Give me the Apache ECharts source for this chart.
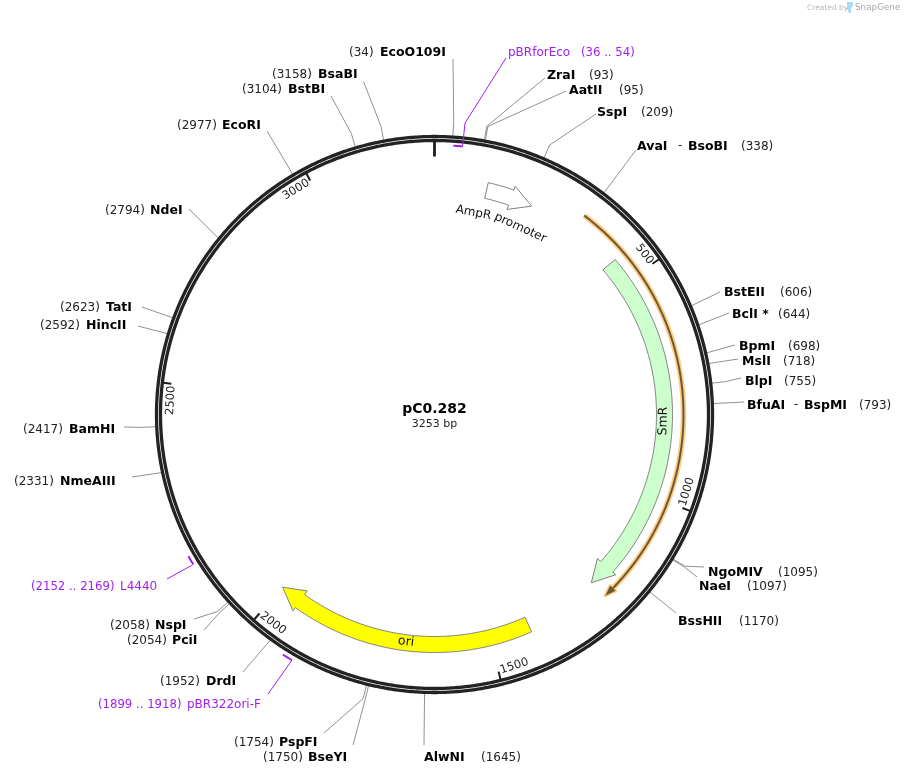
<!DOCTYPE html>
<html>
<head>
<meta charset="utf-8">
<style>html,body{margin:0;padding:0;background:#fff}#c{width:904px;height:775px}</style>
<script src="https://cdn.jsdelivr.net/npm/echarts@6/dist/echarts.min.js"></script>
</head>
<body>
<div id="c"></div>
<script>
const plasmidName = 'pC0.282';
const plasmidLength = 3253;
const tickValues = [0, 500, 1000, 1500, 2000, 2500, 3000];

const siteNames = ['EcoO109I','ZraI','AatII','SspI','AvaI - BsoBI','BstEII','BclI *','BpmI','MslI','BlpI','BfuAI - BspMI','NgoMIV','NaeI','BssHII','AlwNI','BseYI','PspFI','DrdI','PciI','NspI','NmeAIII','BamHI','HincII','TatI','NdeI','EcoRI','BstBI','BsaBI'];
const sitePositions = [34,93,95,209,338,606,644,698,718,755,793,1095,1097,1170,1645,1750,1754,1952,2054,2058,2331,2417,2592,2623,2794,2977,3104,3158];

const primerNames = ['pBRforEco','pBR322ori-F','L4440'];
const primerStarts = [36,1899,2152];
const primerEnds = [54,1918,2169];
const primerLeaderFrom = [54,1899,2152];

const featureNames = ['AmpR promoter','SmR','ori'];
const featureStarts = [118,446,1409];
const featureEnds = [226,1238,2000];
const featureFills = ['#ffffff','#ccffcc','#ffff00'];

const highlightStart = 334;
const highlightEnd = 1235;

// Label layout (page pixels), kept apart from the data above:
// [leader end x, leader end y, text y, position text x, name piece x...]
const siteLabelLayout = [
 [453,59,51,349,380],[545,78,74,589,547],[566,91,89,619,569],[596,114,111,641,597],
 [636,150,145,741,637,678,688],[720,292,291,780,724],[729,313,313,778,732],[735,345,345,788,739],
 [738,359,360,783,742],[741,378,380,784,745],[744,402,404,859,747,794,804],[704,567,571,778,708],
 [697,577,585,747,699],[676,613,620,739,678],[424,745,756,481,424],[353,745,756,263,308],
 [324,733,741,234,279],[243,672,680,160,206],[204,630,639,127,172],[194,619,624,110,155],
 [132,477,480,14,60],[124,427,428,23,69],[138,326,324,40,86],[142,307,306,60,106],
 [189,209,209,105,150],[267,131,124,177,222],[331,96,88,242,288],[363.5,81.5,73,272,318]
];
// Leaders of crowded sites bend at a knee; the others run straight to the label.
const bentLeaders = ['EcoO109I','ZraI','AatII','SspI','BlpI','NgoMIV','NaeI','BseYI','PspFI','PciI','NspI','BamHI','BstBI','BsaBI'];
const primerLabelLayout = [
 [506,58,52,581,508],[268,694,704,98,187],[167,579,586,31,120]
];
const primerRadii = [269.5,284,284];
const primerKneeRadii = [293,286,286];

const FONT = '"DejaVu Sans"';
const PURPLE = '#a020f0';
const R_RING = 276;
const R_KNEE = 293;
const TEXT_DY = 0.3;

function txt(text, x, y, font, fill, align, rot, va) {
  return {type:'text', x:x, y:y, rotation:rot||0, silent:true, style:{
    text:text, font:font, fill:fill,
    textAlign:align||'left', textVerticalAlign:va||'middle',
    align:align||'left', verticalAlign:va||'middle'
  }};
}
function arcPoints(api, r, a, b) {
  const pts = [], n = Math.max(2, Math.ceil(Math.abs(b-a)/4));
  for (let i=0;i<=n;i++) pts.push(api.coord([r, a+(b-a)*i/n]));
  return pts;
}
function arrowPoints(api, start, end, rIn, rOut, rWingIn, rWingOut, headLen) {
  const base = end - headLen, mid = (rIn+rOut)/2;
  const outer = arcPoints(api, rOut, start, base);
  const inner = arcPoints(api, rIn, base, start);
  return outer.concat([api.coord([rWingOut,base]), api.coord([mid,end]), api.coord([rWingIn,base])], inner);
}
const angleDeg = p => p/plasmidLength*360;
function deg2rad(d){return d*Math.PI/180;}

function renderSite(params, api) {
  const i = api.value(2), pos = sitePositions[i], lay = siteLabelLayout[i];
  const pts = bentLeaders.indexOf(siteNames[i])>=0
    ? [api.coord([278,pos]), api.coord([R_KNEE,pos]), [lay[0],lay[1]]]
    : [api.coord([278,pos]), [lay[0],lay[1]]];
  const children = [{type:'polyline', silent:true, shape:{points:pts},
    style:{stroke:'#858585', lineWidth:0.9, fill:null}}];
  const parts = siteNames[i].split(' - ');
  const y = lay[2] + 1 + TEXT_DY;
  children.push(txt('('+pos+')', lay[3], y + 1, '12px '+FONT, '#222222'));
  children.push(txt(parts[0], lay[4], y, 'bold 12.5px '+FONT, '#000000'));
  if (parts.length>1) {
    children.push(txt('-', lay[5], y, '12px '+FONT, '#222222'));
    children.push(txt(parts[1], lay[6], y, 'bold 12.5px '+FONT, '#000000'));
  }
  return {type:'group', children:children};
}
function renderRing(params, api) {
  const circle = r => {
    const pts = arcPoints(api, r, 0, plasmidLength); pts.pop();
    return {type:'polygon', silent:true, shape:{points:pts}, style:{fill:'none', stroke:'#232323', lineWidth:3.3}};
  };
  return {type:'group', children:[circle(278), circle(274)]};
}
function renderTick(params, api) {
  const v = api.value(1), zero = v===0;
  const a0 = api.coord([273,v]), b0 = api.coord([zero?258:265,v]);
  const children = [{type:'line', silent:true,
    shape:{x1:a0[0],y1:a0[1],x2:b0[0],y2:b0[1]},
    style:{stroke:'#1e1e1e', lineWidth:zero?2.8:2}}];
  if (!zero) {
    const deg = angleDeg(v);
    const off = String(v).length*0.9;
    const c = api.coord([264, v - off/360*plasmidLength]);
    const a = deg-off;
    const rotDeg = (a>90 && a<270) ? a-180 : (a>=270 ? a-360 : a);
    children.push(txt(String(v), c[0], c[1], '11.5px '+FONT, '#222222', 'center', -deg2rad(rotDeg)));
  }
  return {type:'group', children:children};
}
function renderPrimer(params, api) {
  const i = api.value(2), lay = primerLabelLayout[i], r = primerRadii[i];
  const from = primerLeaderFrom[i];
  const y = lay[2] + 1 + TEXT_DY;
  const children = [
    {type:'polyline', silent:true, shape:{points:arcPoints(api, r, primerStarts[i], primerEnds[i])},
     style:{stroke:PURPLE, lineWidth:2, fill:null}},
    {type:'polyline', silent:true, shape:{points:[api.coord([r,from]), api.coord([primerKneeRadii[i],from]), [lay[0],lay[1]]]},
     style:{stroke:PURPLE, lineWidth:1, fill:null}},
    txt(primerNames[i], lay[4], y, '12px '+FONT, PURPLE),
    txt('('+primerStarts[i]+' .. '+primerEnds[i]+')', lay[3], y, '11.7px '+FONT, PURPLE)
  ];
  return {type:'group', children:children};
}
function renderHighlight(params, api) {
  const s = api.value(1), e = api.value(2), r = 249, head = 22;
  const base = e-head;
  const line = arcPoints(api, r, s, base);
  const headPts = [api.coord([r+3.8,base]), api.coord([r,e]), api.coord([r-3.8,base])];
  return {type:'group', children:[
    {type:'polyline', silent:true, shape:{points:line}, style:{stroke:'#ffcc80', lineWidth:5.5, fill:null}},
    {type:'polygon', silent:true, shape:{points:headPts}, style:{fill:'#ffcc80', stroke:'#ffcc80', lineWidth:3, lineJoin:'round'}},
    {type:'polyline', silent:true, shape:{points:line}, style:{stroke:'#6a5836', lineWidth:2, fill:null}},
    {type:'polygon', silent:true, shape:{points:headPts}, style:{fill:'#6a5836', stroke:'none'}}
  ]};
}
function renderFeature(params, api) {
  const i = api.value(2);
  const children = [{type:'polygon', silent:true,
    shape:{points:arrowPoints(api, featureStarts[i], featureEnds[i], 222, 238, 217.5, 242, 50)},
    style:{fill:featureFills[i], stroke:'#808080', lineWidth:1}}];
  if (featureNames[i]==='AmpR promoter') {
    const w = featureNames[i].split(' ');
    const wordPos = [98.5, 223];
    w.forEach((t,k)=>{const c=api.coord([205.5,wordPos[k]]);
      children.push(txt(t,c[0],c[1],'12px '+FONT,'#111111','center',-deg2rad(angleDeg(wordPos[k]))));});
  } else {
    const lp = featureNames[i]==='ori' ? 1691 : 828;
    const c = api.coord([229,lp]), a = angleDeg(lp);
    children.push(txt(featureNames[i],c[0],c[1],'12.5px '+FONT,'#111111','center',-deg2rad(a-180)));
  }
  return {type:'group', children:children};
}

const chart = echarts.init(document.getElementById('c'), null, {renderer:'canvas'});
const base = {type:'custom', coordinateSystem:'polar', clip:false, silent:true, animation:false, encode:{radius:0, angle:1}};
chart.setOption({
  animation:false,
  backgroundColor:'#ffffff',
  title:{
    text:plasmidName, subtext:plasmidLength+' bp', left:434.5, top:402, textAlign:'center', itemGap:3, padding:0,
    textStyle:{fontFamily:FONT, fontSize:14, fontWeight:'bold', color:'#000000'},
    subtextStyle:{fontFamily:FONT, fontSize:11, color:'#222222'}
  },
  tooltip:{show:false},
  polar:{center:[434.5,414.5], radius:[0,320]},
  radiusAxis:{show:false, min:0, max:320},
  angleAxis:{show:false, min:0, max:plasmidLength, startAngle:90, clockwise:true},
  graphic:[
    {type:'text', x:807, y:8, silent:true, style:{text:'Created by', font:'7.5px '+FONT, fill:'#b9b9b9', textVerticalAlign:'middle', verticalAlign:'middle'}},
    {type:'polygon', silent:true, shape:{points:[[847,2],[853,2],[853,6],[851,8],[851,13],[849,13],[847,9]]}, style:{fill:'#a9dcf5'}},
    {type:'text', x:855, y:8, silent:true, style:{text:'SnapGene', font:'8.8px '+FONT, fill:'#a9a9a9', textVerticalAlign:'middle', verticalAlign:'middle'}}
  ],
  series:[
    Object.assign({}, base, {renderItem:renderSite, data:sitePositions.map((p,i)=>[R_RING,p,i])}),
    Object.assign({}, base, {renderItem:renderRing, data:[[R_RING,0,0]]}),
    Object.assign({}, base, {renderItem:renderTick, data:tickValues.map(v=>[R_RING,v])}),
    Object.assign({}, base, {renderItem:renderPrimer, data:primerNames.map((n,i)=>[R_RING,primerStarts[i],i])}),
    Object.assign({}, base, {renderItem:renderHighlight, data:[[249,highlightStart,highlightEnd]]}),
    Object.assign({}, base, {renderItem:renderFeature, data:featureNames.map((n,i)=>[230,featureStarts[i],i])})
  ]
});
</script>
</body>
</html>
